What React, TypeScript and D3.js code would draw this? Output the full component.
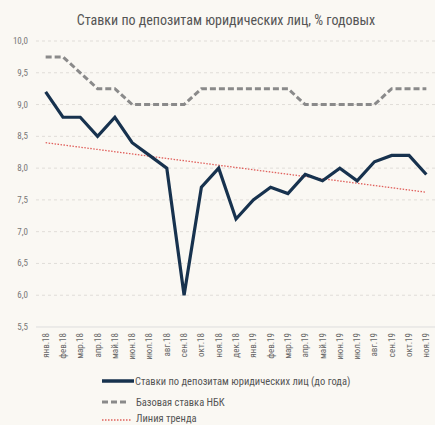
import React from "react";
import * as d3 from "d3";

const categories = ["янв.18","фев.18","мар.18","апр.18","май.18","июн.18","июл.18","авг.18","сен.18","окт.18","ноя.18","дек.18","янв.19","фев.19","мар.19","апр.19","май.19","июн.19","июл.19","авг.19","сен.19","окт.19","ноя.19"];
const depositRates = [9.2,8.8,8.8,8.5,8.8,8.4,8.2,8.0,6.0,7.7,8.0,7.2,7.5,7.7,7.6,7.9,7.8,8.0,7.8,8.1,8.2,8.2,7.9];
const baseRates = [9.75,9.75,9.5,9.25,9.25,9.0,9.0,9.0,9.0,9.25,9.25,9.25,9.25,9.25,9.25,9.0,9.0,9.0,9.0,9.0,9.25,9.25,9.25];
const trendEnds = [8.4, 7.62];
const yTicks = [5.5,6.0,6.5,7.0,7.5,8.0,8.5,9.0,9.5,10.0];
const title = "Ставки по депозитам юридических лиц, % годовых";
const legendLabels = ["Ставки по депозитам юридических лиц (до года)","Базовая ставка НБК","Линия тренда"];

const W = 435, H = 425;
const FONT = "'Roboto Condensed', 'Liberation Sans Narrow', 'DejaVu Sans Condensed', Roboto, sans-serif";

export default function App() {
  const x = d3.scaleBand<string>().domain(categories).range([37, 435]);
  const cx = (c: string) => (x(c) as number) + x.bandwidth() / 2;
  const y = d3.scaleLinear().domain([5.5, 10]).range([327, 41]);
  const line = d3.line<number>().x((_, i) => cx(categories[i])).y((d) => y(d));
  const trendLine = d3.line<number>()
    .x((_, i) => cx(categories[i === 0 ? 0 : categories.length - 1]))
    .y((d) => y(d));
  const fmt = (v: number) => v.toFixed(1).replace(".", ",");

  return (
    <svg width={W} height={H} style={{ position: "absolute", left: 0, top: 0, background: "#faf8f3" }} fontFamily={FONT}>
      <rect width={W} height={H} fill="#faf8f3" />
      <text x={226} y={25} textAnchor="middle" fontSize={14} fill="#555">{title}</text>
      {yTicks.map((t) => (
        <g key={t}>
          <line x1={36} x2={435} y1={y(t)} y2={y(t)} stroke={t === 5.5 ? "#ddd" : "#e0ddd8"} strokeDasharray={t === 5.5 ? undefined : "3,3"} strokeWidth={1} />
          <text x={28} y={y(t) + 3} textAnchor="end" fontSize={9} fill="#777">{fmt(t)}</text>
        </g>
      ))}
      {categories.map((c) => (
        <text key={c} transform={`translate(${cx(c) + 3},333) rotate(-90)`} textAnchor="end" fontSize={9} fill="#666">{c}</text>
      ))}
      <path d={trendLine(trendEnds) || ""} fill="none" stroke="#e0605c" strokeWidth={1.3} strokeDasharray="1.5,1.5" />
      <path d={line(baseRates) || ""} fill="none" stroke="#8a8a8a" strokeWidth={3} strokeDasharray="6,3" />
      <path d={line(depositRates) || ""} fill="none" stroke="#17324e" strokeWidth={3.2} strokeLinejoin="miter" />
      <g>
        <line x1={102} x2={134} y1={381} y2={381} stroke="#17324e" strokeWidth={3.5} />
        <text x={135} y={385} fontSize={10.5} fill="#555">{legendLabels[0]}</text>
        <line x1={102} x2={128} y1={402} y2={402} stroke="#8a8a8a" strokeWidth={3} strokeDasharray="6,3" />
        <text x={136} y={406} fontSize={10.5} fill="#555">{legendLabels[1]}</text>
        <line x1={102} x2={132} y1={420} y2={420} stroke="#e0605c" strokeWidth={1.3} strokeDasharray="1.5,1.5" />
        <text x={136} y={422} fontSize={10.5} fill="#555">{legendLabels[2]}</text>
      </g>
    </svg>
  );
}
